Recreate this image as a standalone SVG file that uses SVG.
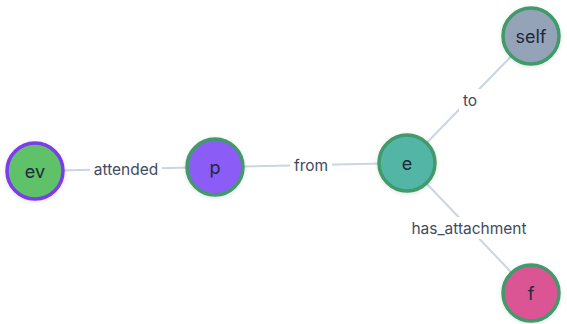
<svg xmlns="http://www.w3.org/2000/svg" width="567" height="324" viewBox="0 0 567 324">
<defs>
<filter id="sh" x="-30%" y="-30%" width="160%" height="160%"><feDropShadow dx="0" dy="1" stdDeviation="2" flood-color="#000" flood-opacity="0.12"/></filter>
<style>
.edge{stroke:#cbd5e1;stroke-width:2;fill:none}
.lbg{fill:#ffffff}
.lbl{font-family:Inter,"Liberation Sans",sans-serif;font-size:15.5px;fill:#3f4b5e;text-anchor:middle;dominant-baseline:central}
.node circle{stroke:#3f9a6b;stroke-width:3.5;filter:url(#sh)}
.node text{font-family:Inter,"Liberation Sans",sans-serif;font-size:18px;fill:#1e293b;text-anchor:middle;dominant-baseline:central}
</style>
</defs>
<rect width="567" height="324" fill="#ffffff"/>
<g id="edges">
<line class="edge" x1="35" y1="171" x2="215" y2="167"/>
<line class="edge" x1="215" y1="167" x2="407" y2="163"/>
<line class="edge" x1="407" y1="163" x2="531" y2="36"/>
<line class="edge" x1="407" y1="163" x2="531" y2="293"/>
<rect class="lbg" x="90" y="158" width="72" height="22"/>
<text class="lbl" x="126" y="169">attended</text>
<rect class="lbg" x="290" y="154" width="42" height="22"/>
<text class="lbl" x="311" y="165">from</text>
<rect class="lbg" x="459" y="89" width="22" height="22"/>
<text class="lbl" x="470" y="100">to</text>
<rect class="lbg" x="407" y="217" width="125" height="22"/>
<text class="lbl" x="469" y="228">has_attachment</text>
</g>
<g id="ev" class="node"><circle cx="35" cy="171" r="28" fill="#5fc168" style="stroke:#7c3aed"/><text x="35" y="171">ev</text></g>
<g id="p" class="node"><circle cx="215" cy="167" r="28" fill="#8b5cf6"/><text x="215" y="167">p</text></g>
<g id="e" class="node"><circle cx="407" cy="163" r="28" fill="#52b5a6"/><text x="407" y="163">e</text></g>
<g id="self" class="node"><circle cx="531" cy="36" r="28" fill="#94a3b8"/><text x="531" y="36">self</text></g>
<g id="f" class="node"><circle cx="531" cy="293" r="28" fill="#db5495"/><text x="531" y="293">f</text></g>
</svg>
